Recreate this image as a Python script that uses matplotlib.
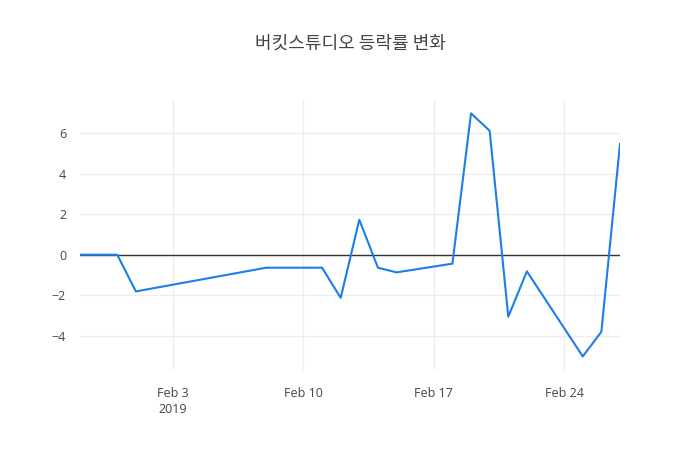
import numpy as np
import pandas as pd
import matplotlib
matplotlib.use("Agg")
import matplotlib.pyplot as plt
import matplotlib.dates as mdates

# daily change rate (%)
dates = pd.to_datetime([
    "2019-01-29", "2019-01-30", "2019-01-31", "2019-02-01", "2019-02-08",
    "2019-02-11", "2019-02-12", "2019-02-13", "2019-02-14", "2019-02-15",
    "2019-02-18", "2019-02-19", "2019-02-20", "2019-02-21", "2019-02-22",
    "2019-02-25", "2019-02-26", "2019-02-27",
])
change = [0.0, 0.0, 0.0, -1.81, -0.64,
          -0.64, -2.13, 1.73, -0.64, -0.87,
          -0.44, 6.98, 6.12, -3.06, -0.82,
          -5.02, -3.80, 5.47]

title = "버킷스튜디오 등락률 변화"
yticks = [-4, -2, 0, 2, 4, 6]
xticks = pd.to_datetime(["2019-02-03", "2019-02-10", "2019-02-17", "2019-02-24"])
xlabels = ["Feb 3\n2019", "Feb 10", "Feb 17", "Feb 24"]

plt.rcParams['font.family'] = ['Open Sans', 'Noto Sans CJK KR', 'DejaVu Sans']
text_color = "#444444"
grid_color = "#eeeeee"

fig = plt.figure(figsize=(7, 4.5), dpi=100)
# plotly default margins: l=80, r=80, t=100, b=80
ax = fig.add_axes([80 / 700, 80 / 450, 540 / 700, 270 / 450])

ax.plot(dates, change, color="#1a7fe8", linewidth=1.5, zorder=3)
ax.axhline(0, color="#333333", linewidth=1, zorder=2)

ax.set_xlim(dates[0], dates[-1])
ax.set_ylim(-5.69, 7.64)

ax.set_yticks(yticks)
ax.set_yticklabels([str(v).replace("-", "\u2212") for v in yticks])
ax.set_xticks(xticks)
ax.set_xticklabels(xlabels)

ax.grid(True, color=grid_color, linewidth=1, zorder=0)
ax.set_axisbelow(True)
for s in ax.spines.values():
    s.set_visible(False)
ax.tick_params(axis="both", length=0, colors=text_color, labelsize=9)
ax.tick_params(axis="x", pad=12)
ax.tick_params(axis="y", pad=10)
for lbl in ax.get_xticklabels():
    lbl.set_linespacing(1.3)

fig.text(0.5, 1 - 44 / 450, title, ha="center", va="center",
         fontsize=13, fontweight="medium", color=text_color,
         family=['Noto Sans CJK KR', 'DejaVu Sans'])

fig.savefig("out.png", dpi=100)
